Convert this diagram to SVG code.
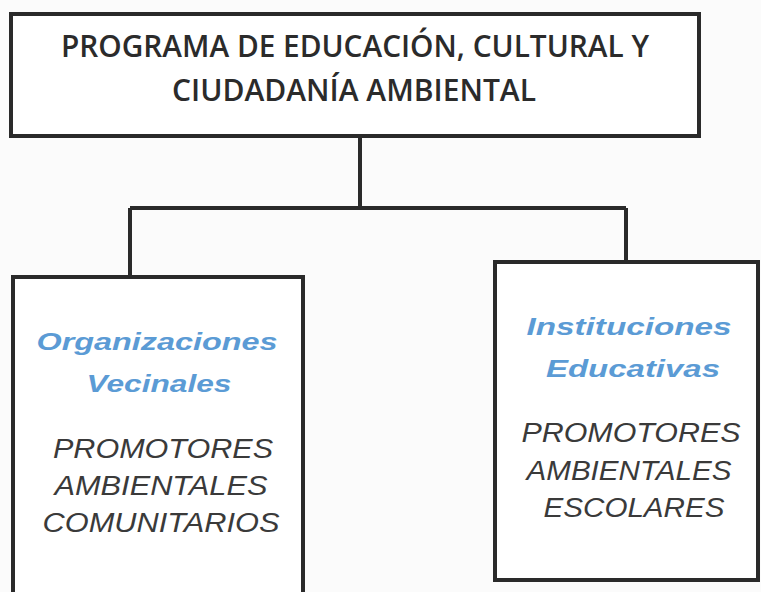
<svg xmlns="http://www.w3.org/2000/svg" width="761" height="592" viewBox="0 0 761 592">
<style>
.box{fill:#fff;stroke:#2a2a2a;stroke-width:4}
.conn{fill:none;stroke:#2a2a2a;stroke-width:4}
.head{font-family:"Open Sans","Liberation Sans",sans-serif;font-weight:600;font-size:30px;fill:#2b2b2b;text-anchor:middle}
.title{font-family:"Liberation Sans",Arial,sans-serif;font-weight:bold;font-style:italic;font-size:24px;fill:#5b9bd5;text-anchor:middle}
.body{font-family:"Liberation Sans",Arial,sans-serif;font-style:italic;font-size:27px;fill:#3a3a3a;text-anchor:middle}
</style>
<rect width="761" height="592" fill="#fbfbfb"/>
<g id="connectors">
<path class="conn" d="M360 136 V208 M130 208 H626 M130 208 V277 M626 208 V262"/>
</g>
<g id="top">
<rect class="box" x="11" y="14" width="688" height="122"/>
<text class="head" x="355" y="57" textLength="588" lengthAdjust="spacingAndGlyphs">PROGRAMA DE EDUCACIÓN, CULTURAL Y</text>
<text class="head" x="354" y="101" textLength="364" lengthAdjust="spacingAndGlyphs">CIUDADANÍA AMBIENTAL</text>
</g>
<g id="left">
<rect class="box" x="13" y="277" width="290" height="330"/>
<text class="title" x="157" y="350" textLength="241" lengthAdjust="spacingAndGlyphs">Organizaciones</text>
<text class="title" x="159" y="392" textLength="145" lengthAdjust="spacingAndGlyphs">Vecinales</text>
<text class="body" x="163" y="458" textLength="220" lengthAdjust="spacingAndGlyphs">PROMOTORES</text>
<text class="body" x="161" y="495" textLength="213" lengthAdjust="spacingAndGlyphs">AMBIENTALES</text>
<text class="body" x="161" y="532" textLength="237" lengthAdjust="spacingAndGlyphs">COMUNITARIOS</text>
</g>
<g id="right">
<rect class="box" x="495" y="262" width="263" height="318"/>
<text class="title" x="629" y="335" textLength="205" lengthAdjust="spacingAndGlyphs">Instituciones</text>
<text class="title" x="633" y="377" textLength="174" lengthAdjust="spacingAndGlyphs">Educativas</text>
<text class="body" x="631" y="442" textLength="219" lengthAdjust="spacingAndGlyphs">PROMOTORES</text>
<text class="body" x="629" y="480" textLength="205" lengthAdjust="spacingAndGlyphs">AMBIENTALES</text>
<text class="body" x="634" y="517" textLength="181" lengthAdjust="spacingAndGlyphs">ESCOLARES</text>
</g>
</svg>
